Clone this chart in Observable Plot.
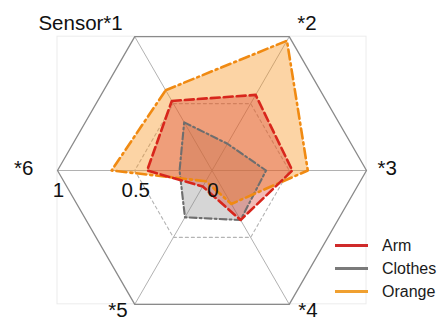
<!DOCTYPE html>
<html>
<head>
<meta charset="utf-8">
<script src="https://cdn.jsdelivr.net/npm/d3@7"></script>
<script src="https://cdn.jsdelivr.net/npm/@observablehq/plot@0.6"></script>
<style>
  body { margin: 0; background: #fff; }
  #chart { position: relative; width: 438px; height: 322px; overflow: hidden;
           font-family: "Liberation Sans", Arial, sans-serif; }
  #legend { position: absolute; left: 335px; top: 234px; }
  .row { display: flex; align-items: center; height: 23px; font-size: 16px; color: #1a1a1a; white-space: nowrap; }
  .sw { width: 33px; height: 3px; margin-right: 14px; }
</style>
</head>
<body>
<div id="chart"></div>
<script>
// Sensor axes, clockwise from the upper-left spoke
const sensors = ["Sensor*1", "*2", "*3", "*4", "*5", "*6"];

// Normalised response per sensor
const seriesNames = ["Arm", "Clothes", "Orange"];
const arm     = [0.52, 0.565, 0.52, 0.37, 0.12, 0.42];
const clothes = [0.36, 0.20, 0.35, 0.37, 0.35, 0.21];
const orange  = [0.60, 0.97, 0.62, 0.25, 0.08, 0.65];

// Radial rings and their tick labels (drawn along the *6 spoke)
const ringValues = [0.5, 1];
const tickValues = [1, 0.5, 0];
const tickLabels = ["1", "0.5", "0"];

// ---- geometry helpers ----
const angle = i => (120 - 60 * i) * Math.PI / 180;
const polar = (r, i) => ({ x: r * Math.cos(angle(i)), y: r * Math.sin(angle(i)) });

const toPoints = (vals, name) => vals.map((v, i) => ({ series: name, sensor: sensors[i], ...polar(v, i) }));

const seriesData = {
  Arm: toPoints(arm, "Arm"),
  Clothes: toPoints(clothes, "Clothes"),
  Orange: toPoints(orange, "Orange")
};

const styles = {
  Arm:     { stroke: "#d8261c", fill: "#d83a2a", fillOpacity: 0.35, strokeWidth: 2.6, dash: "9,4",      legend: "#cf2a2a" },
  Clothes: { stroke: "#6e6e6e", fill: "#8a8a8a", fillOpacity: 0.35, strokeWidth: 2.1, dash: "7,3,2,3",  legend: "#7a7a7a" },
  Orange:  { stroke: "#f08a12", fill: "#f7941d", fillOpacity: 0.40, strokeWidth: 2.6, dash: "10,4,2,4", legend: "#f0a030" }
};

const rings = ringValues.map(r => ({ r, pts: sensors.map((s, i) => polar(r, i)) }));
const spokes = sensors.map((s, i) => ({ sensor: s, ...polar(1, i) }));
const boxCorner = polar(1, 1); // upper-right vertex sets the frame extent

// label placement around the outer hexagon
const labelLayout = [
  { anchor: "end",   dx: -12, dy: -13 },
  { anchor: "start", dx: 8,   dy: -13 },
  { anchor: "start", dx: 11,  dy: -2 },
  { anchor: "start", dx: 9,   dy: 6 },
  { anchor: "end",   dx: -7,  dy: 6 },
  { anchor: "end",   dx: -24, dy: -2 }
];

const R = 154.5; // pixels per unit radius
const cx = 211.5, cy = 170;
const labelSize = 20.5;

const marks = [
  // faint axes box
  Plot.rect([{ x1: -1, x2: 1, y1: -boxCorner.y, y2: boxCorner.y }],
    { x1: "x1", x2: "x2", y1: "y1", y2: "y2", fill: "none", stroke: "#ececec", strokeWidth: 1 }),
  // spokes
  Plot.link(spokes, { x1: 0, y1: 0, x2: "x", y2: "y", stroke: "#a8a8a8", strokeWidth: 0.9 }),
  // inner ring (dashed)
  Plot.line(rings[0].pts, { x: "x", y: "y", curve: "linear-closed", stroke: "#b4b4b4", strokeWidth: 1.1, strokeDasharray: "3,3" }),
  // outer ring
  Plot.line(rings[1].pts, { x: "x", y: "y", curve: "linear-closed", stroke: "#8a8a8a", strokeWidth: 1.3 })
];

// filled areas
for (const name of ["Clothes", "Orange", "Arm"]) {
  const s = styles[name];
  marks.push(Plot.line(seriesData[name], {
    x: "x", y: "y", curve: "linear-closed", fill: s.fill, fillOpacity: s.fillOpacity, stroke: "none"
  }));
}
// outlines
for (const name of ["Clothes", "Orange", "Arm"]) {
  const s = styles[name];
  marks.push(Plot.line(seriesData[name], {
    x: "x", y: "y", curve: "linear-closed", stroke: s.stroke, strokeWidth: s.strokeWidth,
    strokeDasharray: s.dash, strokeLinejoin: "round"
  }));
}

// radial tick labels
marks.push(Plot.text(tickValues, {
  x: d => -d, y: () => 0, text: (d, i) => tickLabels[i], dy: 20, dx: 1,
  fontSize: labelSize, fill: "#111"
}));

// sensor labels
sensors.forEach((s, i) => {
  const L = labelLayout[i];
  marks.push(Plot.text([spokes[i]], {
    x: "x", y: "y", text: "sensor", textAnchor: L.anchor, dx: L.dx, dy: L.dy,
    fontSize: labelSize, fill: "#111"
  }));
});

const svg = Plot.plot({
  width: 438,
  height: 322,
  margin: 0,
  x: { domain: [-cx / R, (438 - cx) / R], axis: null },
  y: { domain: [-(322 - cy) / R, cy / R], axis: null },
  style: { background: "#fff", fontFamily: "'Liberation Sans', Arial, sans-serif", overflow: "visible" },
  marks
});

const chart = document.getElementById("chart");
chart.appendChild(svg);

// legend
const legend = document.createElement("div");
legend.id = "legend";
for (const name of seriesNames) {
  const row = document.createElement("div");
  row.className = "row";
  const sw = document.createElement("div");
  sw.className = "sw";
  sw.style.background = styles[name].legend;
  const label = document.createElement("span");
  label.textContent = name;
  row.appendChild(sw);
  row.appendChild(label);
  legend.appendChild(row);
}
chart.appendChild(legend);
</script>
</body>
</html>
